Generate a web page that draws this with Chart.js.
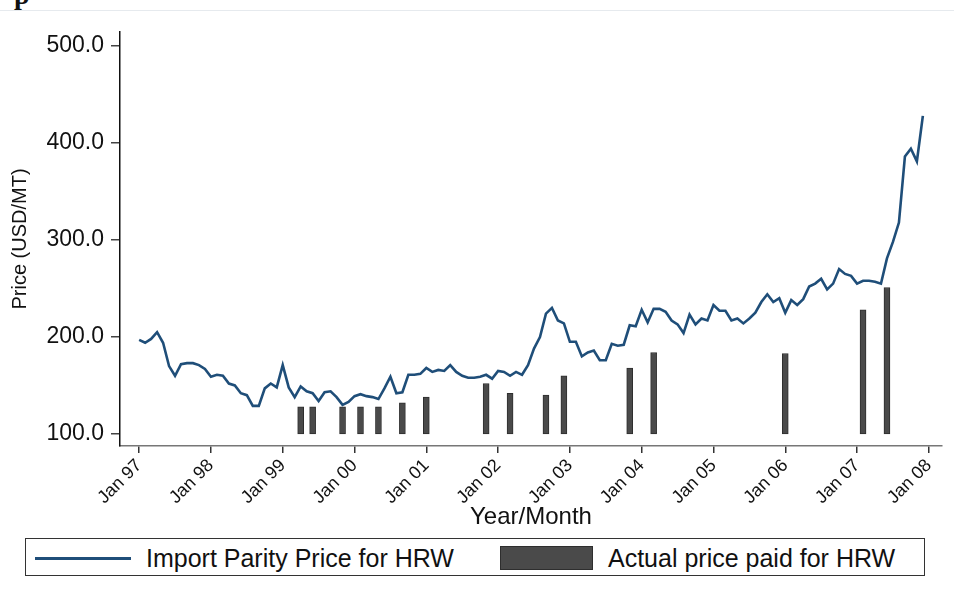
<!DOCTYPE html>
<html>
<head>
<meta charset="utf-8">
<script src="https://cdn.jsdelivr.net/npm/chart.js@4"></script>
<style>
  body { margin: 0; background: #fff; font-family: 'Liberation Sans', Arial, sans-serif; }
  #wrap { position: relative; width: 954px; height: 596px; overflow: hidden; }
  #chart-box { position: absolute; left: 0; top: 0; width: 954px; height: 532px; }
  .topline { position: absolute; left: 0; top: 10px; width: 954px; border-top: 1px solid #e6eaee; }
  .cut { position: absolute; left: 14px; top: -21px; font: bold 28px 'Liberation Serif', serif; color: #111; }
  .legend { position: absolute; left: 25px; top: 538px; width: 900px; height: 38px; border: 1px solid #333; box-sizing: border-box; }
  .legend .item { position: absolute; top: 0; height: 38px; display: flex; align-items: center; font-size: 25px; color: #111; }
  .legend .line { width: 96px; height: 0; border-top: 3px solid #1f4e79; margin-right: 15px; }
  .legend .bar { width: 93px; height: 24px; background: #4a4a4a; border: 1px solid #2e2e2e; box-sizing: border-box; margin-right: 15px; }
</style>
</head>
<body>
<div id="wrap">
  <div class="cut">p</div>
  <div class="topline"></div>
  <div id="chart-box"><canvas id="chart"></canvas></div>
  <div class="legend">
    <div class="item" style="left:9px"><span class="line"></span>Import Parity Price for HRW</div>
    <div class="item" style="left:474px"><span class="bar"></span>Actual price paid for HRW</div>
  </div>
</div>
<script>
// months since Jan 1997
const yearLabels = ['Jan 97', 'Jan 98', 'Jan 99', 'Jan 00', 'Jan 01', 'Jan 02',
  'Jan 03', 'Jan 04', 'Jan 05', 'Jan 06', 'Jan 07', 'Jan 08'];
const yTicks = [100, 200, 300, 400, 500];

// Import parity price, monthly Jan 97 - Dec 07 (USD/MT)
const importParity = [
  197, 194, 198, 205, 194, 170, 160, 172, 173, 173, 171, 167,
  159, 161, 160, 152, 150, 142, 140, 129, 129, 147, 152, 148,
  171, 148, 138, 149, 144, 142, 134, 143, 144, 138, 130, 133,
  139, 141, 139, 138, 136, 147, 159, 142, 143, 161, 161, 162,
  168, 164, 166, 165, 171, 164, 160, 158, 158, 159, 161, 157,
  165, 164, 160, 164, 161, 171, 188, 200, 224, 230, 217, 214,
  195, 195, 180, 184, 186, 176, 176, 193, 191, 192, 212, 211,
  228, 215, 229, 229, 226, 217, 213, 204, 223, 213, 219, 217,
  233, 227, 227, 217, 219, 214, 219, 225, 236, 244, 236, 240,
  225, 238, 233, 239, 252, 255, 260, 249, 255, 270, 265, 263,
  255, 258, 258, 257, 255, 281, 298, 318, 386, 394, 381, 428
];

// Actual price paid (month index, price)
const paidMonths = [27, 29, 34, 37, 40, 44, 48, 58, 62, 68, 71, 82, 86, 108, 121, 125];
const paidPrices = [128, 128, 128, 128, 128, 132, 138, 152, 142, 140, 160, 168, 184, 183, 228, 251];

const fontFamily = "'Liberation Sans', Arial, sans-serif";

new Chart(document.getElementById('chart'), {
  data: {
    datasets: [
      {
        type: 'line',
        label: 'Import Parity Price for HRW',
        data: importParity.map((v, i) => ({ x: i, y: v })),
        borderColor: '#1f4e79',
        borderWidth: 2.6,
        pointRadius: 0,
        tension: 0
      },
      {
        type: 'bar',
        label: 'Actual price paid for HRW',
        data: paidMonths.map((m, i) => ({ x: m, y: [100, paidPrices[i]] })),
        backgroundColor: '#4a4a4a',
        borderColor: '#2e2e2e',
        borderWidth: 1,
        barThickness: 6,
        borderSkipped: false
      }
    ]
  },
  options: {
    responsive: true,
    maintainAspectRatio: false,
    animation: false,
    layout: { padding: { top: 32, right: 12, left: 0, bottom: 0 } },
    plugins: { legend: { display: false }, tooltip: { enabled: false } },
    scales: {
      x: {
        type: 'linear',
        offset: false,
        min: -3.2,
        max: 134.2,
        afterBuildTicks: s => { s.ticks = yearLabels.map((_, i) => ({ value: i * 12 })); },
        afterFit: s => { s.height = 86; },
        ticks: {
          color: '#111',
          font: { family: fontFamily, size: 18 },
          minRotation: 45,
          maxRotation: 45,
          padding: 2,
          autoSkip: false,
          callback: v => yearLabels[Math.round(v / 12)]
        },
        grid: { drawOnChartArea: false, drawTicks: true, tickLength: 7, color: '#333', lineWidth: 1.5, offset: false },
        border: { display: true, color: '#777', width: 1.5 },
        title: {
          display: true,
          text: 'Year/Month',
          color: '#111',
          font: { family: fontFamily, size: 24, lineHeight: 1 },
          padding: { top: 0, bottom: 3 }
        }
      },
      y: {
        min: 87.6,
        max: 514.4,
        afterBuildTicks: s => { s.ticks = yTicks.map(v => ({ value: v })); },
        afterFit: s => { s.width = 120; },
        ticks: {
          color: '#111',
          font: { family: fontFamily, size: 23 },
          padding: 7,
          callback: v => v.toFixed(1)
        },
        grid: { drawOnChartArea: false, drawTicks: true, tickLength: 9, color: '#444', lineWidth: 1.5 },
        border: { display: true, color: '#111', width: 1.5 },
        title: {
          display: true,
          text: 'Price (USD/MT)',
          color: '#111',
          font: { family: fontFamily, size: 20, lineHeight: 1 },
          padding: { top: 10, bottom: 0 }
        }
      }
    }
  }
});
</script>
</body>
</html>
